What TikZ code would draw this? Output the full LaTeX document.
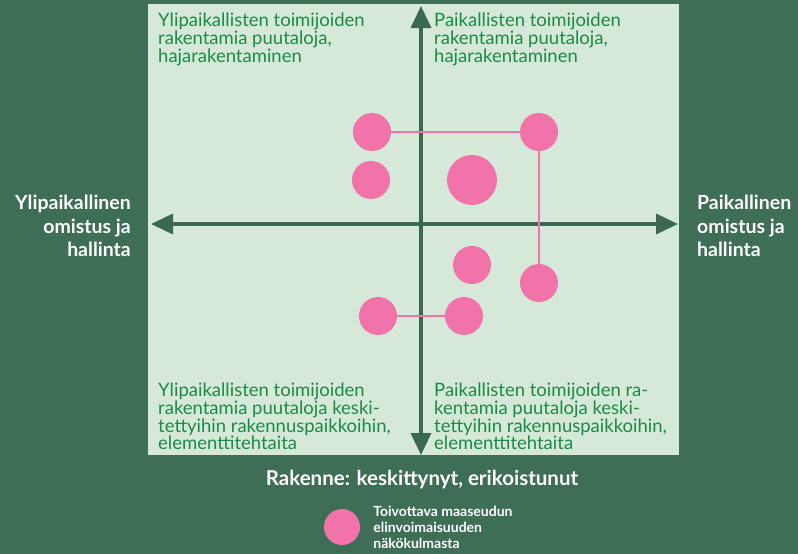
\documentclass[tikz,border=0pt]{standalone}
\usepackage{fontspec}
\setmainfont{Lato}
\usetikzlibrary{arrows.meta,positioning}

\definecolor{bggreen}{RGB}{62,110,86}
\definecolor{panelgreen}{RGB}{214,233,216}
\definecolor{axisgreen}{RGB}{58,104,80}
\definecolor{textgreen}{RGB}{26,138,72}
\definecolor{dotpink}{RGB}{242,114,170}

\begin{document}
\begin{tikzpicture}[
	x = 1pt, y = -1pt, % one unit per pixel, y downwards
	> = {Triangle[length=22pt, width=20pt]}, % arrow head style
	D/.style={circle, fill=dotpink, inner sep=0pt, minimum size=38pt},  % small dot
	B/.style={circle, fill=dotpink, inner sep=0pt, minimum size=50pt},  % big dot
	Q/.style={anchor=north west, inner sep=0pt, align=left, text=textgreen, font={\fontsize{18.5}{17.6}\selectfont\lineskiplimit=-100pt}},
	L/.style={inner sep=0pt, text=white, font={\bfseries\fontsize{19.5}{23.5}\selectfont\lineskiplimit=-100pt}},
	]

	% Background and panel
	\fill[bggreen] (0,0) rectangle (798,554);
	\fill[panelgreen] (148,4) rectangle (679,455);

	% Axes
	\coordinate (N) at (421,6);
	\coordinate (S) at (421,455);
	\coordinate (W) at (151,224);
	\coordinate (E) at (678,224);
	\draw[<->, axisgreen, line width=3.4pt] (N) -- (S);
	\draw[<->, axisgreen, line width=3.4pt] (W) -- (E);

	% Quadrant texts
	\node[Q] (tl) at (158,13) {Ylipaikallisten toimijoiden\\rakentamia puutaloja,\\hajarakentaminen};
	\node[Q] (tr) at (434,13) {Paikallisten toimijoiden\\rakentamia puutaloja,\\hajarakentaminen};
	\node[Q] (bl) at (158,383) {Ylipaikallisten toimijoiden\\rakentamia puutaloja keski-\\tettyihin rakennuspaikkoihin,\\elementtitehtaita};
	\node[Q] (br) at (434,383) {Paikallisten toimijoiden ra-\\kentamia puutaloja keski-\\tettyihin rakennuspaikkoihin,\\elementtitehtaita};

	% Axis labels
	\node[L, align=right, anchor=east] (over) at (131,226) {Ylipaikallinen\\omistus ja\\hallinta};
	\node[L, align=left, anchor=west] (local) at (697,226) {Paikallinen\\omistus ja\\hallinta};
	\node[L, anchor=base, font=\bfseries\fontsize{20.5}{24}\selectfont] (struct) at (422,485) {Rakenne: keskittynyt, erikoistunut};

	% Dots
	\node[D] (a) at (372,132) {};
	\node[D] (b) at (539,132) {};
	\node[D] (c) at (371,180) {};
	\node[B] (d) at (472,180) {};
	\node[D] (e) at (472,265) {};
	\node[D] (f) at (539,283) {};
	\node[D] (g) at (378,316) {};
	\node[D] (h) at (464,316) {};

	% Paths connecting dots
	\path[dotpink, line width=2pt] (a) edge (b);
	\path[dotpink, line width=2pt] (b) edge (f);
	\path[dotpink, line width=2pt] (g) edge (h);

	% Legend
	\node[D, minimum size=36pt] (key) at (342,527) {};
	\node[inner sep=0pt, align=left, text=white, font={\bfseries\fontsize{14}{16}\selectfont\lineskiplimit=-100pt}] (keytext) [right = 13pt of key] {Toivottava maaseudun\\elinvoimaisuuden\\näkökulmasta};

\end{tikzpicture}
\end{document}
